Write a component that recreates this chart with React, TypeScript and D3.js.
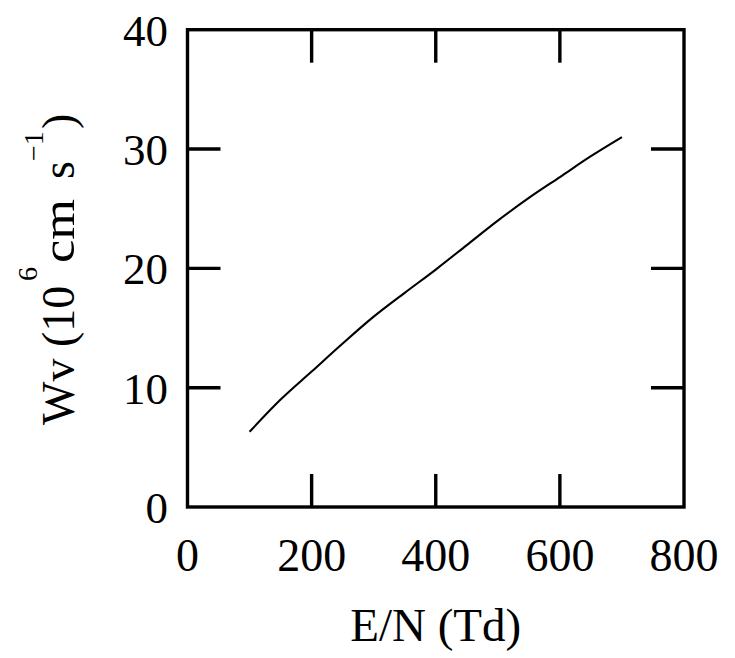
import React from "react";
import * as d3 from "d3";

const enValues = [100, 150, 200, 250, 300, 350, 400, 450, 500, 550, 600, 650, 700];
const wvValues = [6.3, 9.0, 11.35, 13.7, 15.95, 17.95, 19.9, 21.95, 24.0, 25.9, 27.65, 29.4, 31.0];
const xTicks = [0, 200, 400, 600, 800];
const yTicks = [0, 10, 20, 30, 40];
const xInnerTicks = [200, 400, 600];
const yInnerTicks = [10, 20, 30];

const W = 735;
const H = 658;
const L = 187.5, R = 684, T = 29.7, B = 507;
const FONT = "'Liberation Serif', 'Times New Roman', serif";

export default function App() {
  const x = d3.scaleLinear().domain([0, 800]).range([L, R]);
  const y = d3.scaleLinear().domain([0, 40]).range([B, T]);
  const line = d3
    .line<number>()
    .x((_, i) => x(enValues[i]))
    .y((d) => y(d))
    .curve(d3.curveMonotoneX);
  const tick = 33;
  const sw = 3.4;

  return (
    <svg
      width={W}
      height={H}
      viewBox={`0 0 ${W} ${H}`}
      style={{ position: "absolute", left: 0, top: 0, background: "#fff" }}
    >
      <rect x={0} y={0} width={W} height={H} fill="#fff" />
      {/* ticks */}
      {xInnerTicks.map((v) => (
        <g key={"xt" + v}>
          <line x1={x(v)} x2={x(v)} y1={B} y2={B - tick} stroke="#000" strokeWidth={sw} />
          <line x1={x(v)} x2={x(v)} y1={T} y2={T + tick} stroke="#000" strokeWidth={sw} />
        </g>
      ))}
      {yInnerTicks.map((v) => (
        <g key={"yt" + v}>
          <line x1={L} x2={L + tick} y1={y(v)} y2={y(v)} stroke="#000" strokeWidth={sw} />
          <line x1={R} x2={R - tick} y1={y(v)} y2={y(v)} stroke="#000" strokeWidth={sw} />
        </g>
      ))}
      {/* frame */}
      <rect x={L} y={T} width={R - L} height={B - T} fill="none" stroke="#000" strokeWidth={sw} />
      {/* curve */}
      <path d={line(wvValues) || ""} fill="none" stroke="#000" strokeWidth={2.1} />
      {/* tick labels */}
      {xTicks.map((v) => (
        <text key={"xl" + v} x={x(v)} y={571} textAnchor="middle" fontFamily={FONT} fontSize={46} fill="#000">
          {v}
        </text>
      ))}
      {yTicks.map((v) => (
        <text key={"yl" + v} x={168} y={y(v) + 16} textAnchor="end" fontFamily={FONT} fontSize={45} fill="#000">
          {v}
        </text>
      ))}
      {/* x title */}
      <text x={(L + R) / 2} y={641} textAnchor="middle" fontFamily={FONT} fontSize={47} fill="#000">
        E/N (Td)
      </text>
      {/* y title */}
      <g transform="translate(74,0) rotate(-90)">
        <text fontFamily={FONT} fontSize={46} fill="#000">
          <tspan x={-425} y={0}>Wv</tspan>
          <tspan x={-347} y={0}>(10</tspan>
          <tspan x={-281} y={-37} fontSize={28}>6</tspan>
          <tspan x={-263} y={0} textLength={64} lengthAdjust="spacingAndGlyphs">cm</tspan>
          <tspan x={-179} y={0}>s</tspan>
          <tspan x={-161} y={-31} fontSize={28}>−1</tspan>
          <tspan x={-129} y={0}>)</tspan>
        </text>
      </g>
    </svg>
  );
}
